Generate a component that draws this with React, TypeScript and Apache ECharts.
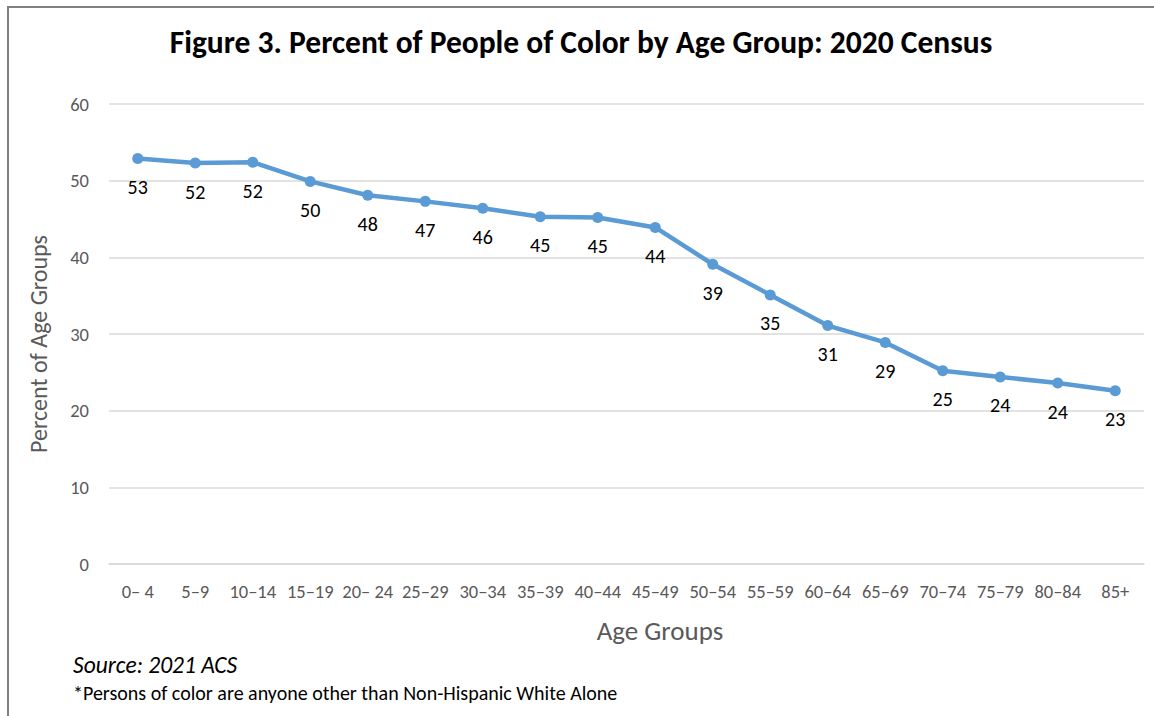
import React, { useEffect, useRef } from "react";
import * as echarts from "echarts";

// Age group categories along the x-axis
const ageGroups = [
  "0– 4", "5–9", "10–14", "15–19", "20– 24", "25–29", "30–34", "35–39", "40–44",
  "45–49", "50–54", "55–59", "60–64", "65–69", "70–74", "75–79", "80–84", "85+",
];

// Percent of people of color in each age group
const percentPeopleOfColor = [
  52.9, 52.3, 52.4, 49.9, 48.1, 47.3, 46.4, 45.3, 45.2,
  43.9, 39.1, 35.1, 31.1, 28.9, 25.2, 24.4, 23.6, 22.6,
];

// Value axis ticks
const yTicks = [0, 10, 20, 30, 40, 50, 60];

const titleText = "Figure 3. Percent of People of Color by Age Group: 2020 Census";
const yAxisTitle = "Percent of Age Groups";
const xAxisTitle = "Age Groups";
const sourceText = "Source: 2021 ACS";
const noteText = "*Persons of color are anyone other than Non-Hispanic White Alone";

const FONT = "Carlito, Calibri, Lato, 'Noto Sans', sans-serif";

export default function App() {
  const ref = useRef<HTMLDivElement>(null);

  useEffect(() => {
    if (!ref.current) return;
    const chart = echarts.init(ref.current, null, { renderer: "svg" });
    chart.setOption({
      animation: false,
      backgroundColor: "#ffffff",
      textStyle: { fontFamily: FONT },
      grid: { left: 109, right: 10, top: 104, bottom: 152, containLabel: false },
      xAxis: {
        type: "category",
        data: ageGroups,
        boundaryGap: true,
        axisLine: { show: true, lineStyle: { color: "#d9d9d9", width: 1.5 } },
        axisTick: { show: false },
        axisLabel: {
          color: "#595959",
          fontSize: 18.5,
          fontFamily: FONT,
          margin: 18,
          interval: 0,
        },
      },
      yAxis: {
        type: "value",
        min: yTicks[0],
        max: yTicks[yTicks.length - 1],
        interval: 10,
        axisLine: { show: false },
        axisTick: { show: false },
        axisLabel: { color: "#595959", fontSize: 18.5, fontFamily: FONT, margin: 20 },
        splitLine: { lineStyle: { color: "#d9d9d9", width: 1.5 } },
      },
      series: [
        {
          type: "line",
          data: percentPeopleOfColor,
          symbol: "circle",
          symbolSize: 11,
          itemStyle: { color: "#5b9bd5" },
          lineStyle: { color: "#5b9bd5", width: 4.5 },
          label: {
            show: true,
            position: "bottom",
            distance: 13,
            color: "#000000",
            fontSize: 20,
            fontFamily: FONT,
            formatter: (p: any) => String(Math.round(p.value)),
          },
        },
      ],
      graphic: [
        {
          type: "rect",
          shape: { x: 8, y: 7, width: 1300, height: 900 },
          style: { fill: "none", stroke: "#7f7f7f", lineWidth: 2 },
          silent: true,
        },
        {
          type: "text",
          x: 581,
          y: 42,
          style: {
            text: titleText,
            font: `bold 31.5px ${FONT}`,
            fill: "#000000",
            align: "center",
            verticalAlign: "middle",
          },
        },
        {
          type: "text",
          x: 38,
          y: 344,
          rotation: Math.PI / 2,
          style: {
            text: yAxisTitle,
            font: `24px ${FONT}`,
            fill: "#595959",
            align: "center",
            verticalAlign: "middle",
          },
        },
        {
          type: "text",
          x: 660,
          y: 630,
          style: {
            text: xAxisTitle,
            font: `27px ${FONT}`,
            fill: "#595959",
            align: "center",
            verticalAlign: "middle",
          },
        },
        {
          type: "text",
          x: 73,
          y: 665,
          style: {
            text: sourceText,
            font: `italic 23.5px ${FONT}`,
            fill: "#000000",
            align: "left",
            verticalAlign: "middle",
          },
        },
        {
          type: "text",
          x: 73,
          y: 693,
          style: {
            text: noteText,
            font: `20px ${FONT}`,
            fill: "#000000",
            align: "left",
            verticalAlign: "middle",
          },
        },
      ],
    });
    return () => chart.dispose();
  }, []);

  return (
    <div
      ref={ref}
      style={{ position: "fixed", left: 0, top: 0, width: 1154, height: 716 }}
    />
  );
}
